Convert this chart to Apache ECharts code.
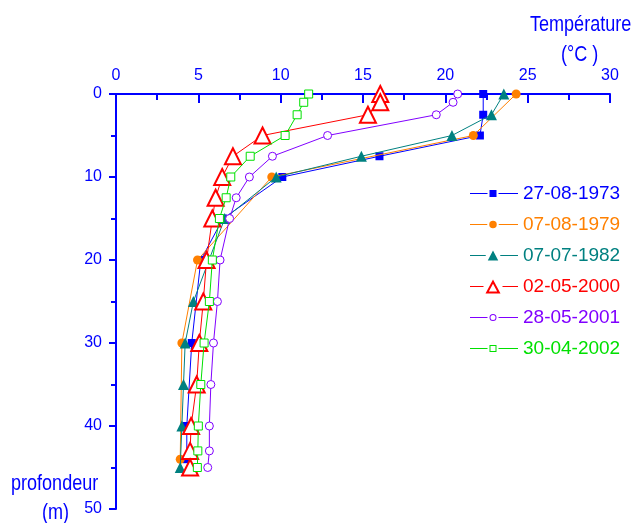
<!DOCTYPE html>
<html>
<head>
<meta charset="utf-8">
<script src="https://cdn.jsdelivr.net/npm/echarts@6/dist/echarts.min.js"></script>
<style>
  html, body { margin: 0; padding: 0; background: #fff; }
  #chart { width: 638px; height: 523px; }
</style>
</head>
<body>
<div id="chart"></div>
<script>
// Temperature profiles (°C) against depth (m)
const xTicks = [0, 5, 10, 15, 20, 25, 30];
const yTicks = [0, 10, 20, 30, 40, 50];

const names = ['27-08-1973', '07-08-1979', '07-07-1982', '02-05-2000', '28-05-2001', '30-04-2002'];

const depth1973 = [0, 2.5, 5, 7.5, 10, 15, 20, 30, 40, 44];
const temp1973  = [22.3, 22.3, 22.1, 16.0, 10.1, 6.5, 5.15, 4.6, 4.3, 4.3];

const depth1979 = [0, 5, 10, 20, 30, 44];
const temp1979  = [24.3, 21.7, 9.46, 4.95, 4.0, 3.9];

const depth1982 = [0, 2.5, 5, 7.5, 10, 15, 25, 30, 35, 40, 45];
const temp1982  = [23.55, 22.8, 20.4, 14.9, 9.73, 6.6, 4.7, 4.2, 4.1, 4.0, 3.9];

const depth2000 = [0, 1, 2.5, 5, 7.5, 10, 12.5, 15, 20, 25, 30, 35, 40, 43, 45];
const temp2000  = [16.05, 16.05, 15.3, 8.9, 7.1, 6.45, 6.05, 5.85, 5.5, 5.3, 5.06, 4.9, 4.56, 4.5, 4.5];

const depth2001 = [0, 1, 2.5, 5, 7.5, 10, 12.5, 15, 20, 25, 30, 35, 40, 43, 45];
const temp2001  = [20.75, 20.47, 19.45, 12.85, 9.5, 8.1, 7.3, 6.9, 6.32, 6.16, 5.92, 5.76, 5.67, 5.67, 5.57];

const depth2002 = [0, 1, 2.5, 5, 7.5, 10, 12.5, 15, 20, 25, 30, 35, 40, 43, 45];
const temp2002  = [11.7, 11.4, 11.0, 10.27, 8.15, 6.97, 6.69, 6.28, 5.85, 5.67, 5.35, 5.15, 5.0, 4.97, 4.94];

const colors = ['#0000ff', '#ff8000', '#008080', '#ff0000', '#8000ff', '#00e000'];
const AXIS = '#0000ff';
const FONT = "'Liberation Sans', Arial, sans-serif";

const pairs = (t, d) => t.map((v, i) => [v, d[i]]);

const profiles = [
  { t: temp1973, d: depth1973, symbol: 'rect', size: 8, hollow: false, key: 7 },
  { t: temp1979, d: depth1979, symbol: 'circle', size: 9, hollow: false, key: 7.5 },
  { t: temp1982, d: depth1982, symbol: 'triangle', size: 11, hollow: false, key: 10.5 },
  { t: temp2000, d: depth2000, symbol: 'triangle', size: 16, hollow: true, border: 2, key: 15 },
  { t: temp2001, d: depth2001, symbol: 'circle', size: 8, hollow: true, border: 1, key: 7 },
  { t: temp2002, d: depth2002, symbol: 'rect', size: 8, hollow: true, border: 1, key: 7 }
];

// Legend key: a short line broken on each side of the marker (48 units wide)
function keyIcon(shape, s, hollow, t) {
  const c = 23, h = s / 2, gap = 2;
  const a = c - h - gap, b = c + h + gap;
  let p = `M0 -0.5H${a}V0.5H0Z M${b} -0.5H48V0.5H${b}Z `;
  if (shape === 'rect') {
    p += `M${c - h} ${-h}H${c + h}V${h}H${c - h}Z`;
    if (hollow) p += ` M${c - h + t} ${-h + t}V${h - t}H${c + h - t}V${-h + t}Z`;
  } else if (shape === 'circle') {
    p += `M${c - h} 0A${h} ${h} 0 1 0 ${c + h} 0A${h} ${h} 0 1 0 ${c - h} 0Z`;
    if (hollow) {
      const r = h - t;
      p += ` M${c - r} 0A${r} ${r} 0 1 1 ${c + r} 0A${r} ${r} 0 1 1 ${c - r} 0Z`;
    }
  } else {
    const hh = s * 0.47, hw = s / 2;
    p += `M${c} ${-hh}L${c + hw} ${hh}L${c - hw} ${hh}Z`;
    if (hollow) {
      const slope = hw / (2 * hh);
      const top = -hh + t / Math.sin(Math.atan(slope));
      const bot = hh - t;
      const iw = (bot - top) * slope;
      p += ` M${c} ${top}L${c - iw} ${bot}L${c + iw} ${bot}Z`;
    }
  }
  return 'path://' + p;
}

const series = profiles.map((p, i) => ({
  name: names[i],
  type: 'line',
  data: pairs(p.t, p.d),
  symbol: p.symbol,
  symbolSize: p.size,
  showAllSymbol: true,
  lineStyle: { color: colors[i], width: 1 },
  itemStyle: p.hollow
    ? { color: '#ffffff', borderColor: colors[i], borderWidth: p.border }
    : { color: colors[i], borderWidth: 0 },
  emphasis: { disabled: true },
  z: 2 + i
}));

// narrow-looking caption text: regular face squeezed horizontally
const caption = (text, x, y) => ({
  type: 'text', x: x, y: y, scaleX: 0.82,
  style: { text: text, fill: AXIS, font: "22px " + FONT, textVerticalAlign: 'top' }
});

const chart = echarts.init(document.getElementById('chart'), null, { renderer: 'canvas' });
chart.setOption({
  animation: false,
  backgroundColor: '#ffffff',
  grid: { left: 116, top: 94, right: 28, bottom: 14, containLabel: false },
  xAxis: {
    type: 'value',
    position: 'top',
    min: xTicks[0],
    max: xTicks[xTicks.length - 1],
    interval: 5,
    axisLine: { show: true, onZero: false, lineStyle: { color: AXIS, width: 2 } },
    axisTick: { show: true, inside: true, length: 9, lineStyle: { color: AXIS, width: 2 } },
    minorTick: { show: true, splitNumber: 2, length: 6, lineStyle: { color: AXIS, width: 2 } },
    axisLabel: { color: AXIS, fontFamily: FONT, fontSize: 16, margin: 10 },
    splitLine: { show: false }
  },
  yAxis: {
    type: 'value',
    inverse: true,
    min: yTicks[0],
    max: yTicks[yTicks.length - 1],
    interval: 10,
    axisLine: { show: true, onZero: false, lineStyle: { color: AXIS, width: 2 } },
    axisTick: { show: true, inside: false, length: 7, lineStyle: { color: AXIS, width: 2 } },
    minorTick: { show: true, splitNumber: 2, length: 5, lineStyle: { color: AXIS, width: 2 } },
    axisLabel: { color: AXIS, fontFamily: FONT, fontSize: 16, margin: 14 },
    splitLine: { show: false }
  },
  legend: {
    orient: 'vertical',
    left: 465,
    top: 179,
    itemWidth: 48,
    itemHeight: 16,
    itemGap: 12,
    selectedMode: false,
    symbolKeepAspect: true,
    textStyle: { fontFamily: FONT, fontSize: 19 },
    data: names.map((n, i) => ({
      name: n,
      icon: keyIcon(profiles[i].symbol, profiles[i].key, profiles[i].hollow, profiles[i].border || 0),
      itemStyle: { color: colors[i], borderWidth: 0 },
      textStyle: { color: colors[i] }
    }))
  },
  graphic: [
    caption('Température', 530, 14),
    caption('(°C )', 561, 44),
    caption('profondeur', 11, 473),
    caption('(m)', 42, 502)
  ],
  series: series
});
</script>
</body>
</html>
